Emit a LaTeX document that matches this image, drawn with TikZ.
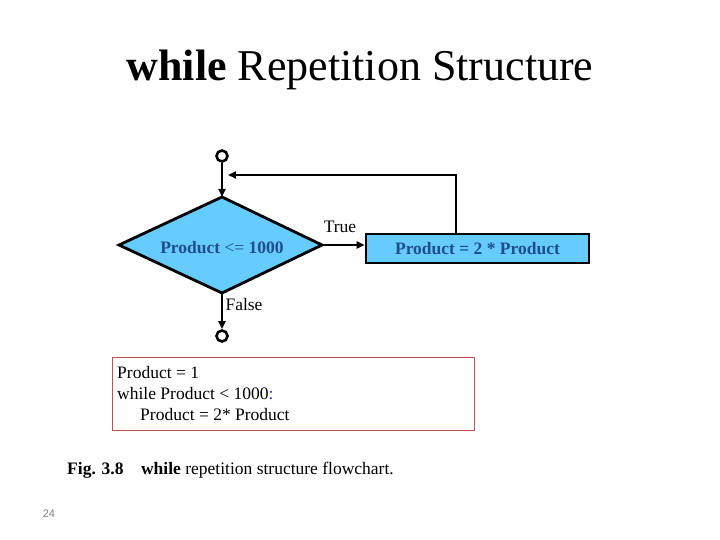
\documentclass[tikz,border=0pt]{standalone}
\usepackage{fontspec}
\setmainfont{Liberation Serif}
\setsansfont{Liberation Sans}
\usetikzlibrary{arrows.meta}
\definecolor{boxblue}{HTML}{66CCFF}
\definecolor{txtblue}{HTML}{1F4E8C}
\definecolor{codered}{HTML}{C0504D}
\definecolor{colonblue}{HTML}{3333AA}
\begin{document}
\begin{tikzpicture}[x=1pt,y=-1pt,
  flow/.style={line width=2.6pt,-{Triangle[length=8pt,width=7pt]}},
  plain/.style={line width=2.6pt},
  term/.style={circle,draw,line width=2.6pt,minimum size=11pt,inner sep=0pt,fill=white},
  lbl/.style={font=\fontsize{17.5}{20}\selectfont,inner sep=0pt},
  btxt/.style={font=\fontsize{17.5}{20}\selectfont\bfseries,text=txtblue}]
\useasboundingbox (0,0) rectangle (720,540);
\node[font=\fontsize{44}{48}\selectfont] (title) at (360,70) {\textbf{while} Repetition Structure};
\node[term] (top) at (222,156) {};
\coordinate (dt) at (222,197);
\coordinate (dl) at (119,245);
\coordinate (dr) at (322,245);
\coordinate (db) at (222,293);
\draw[fill=boxblue,line width=2.8pt,line join=miter] (dt) -- (dr) -- (db) -- (dl) -- cycle;
\node[btxt] (cond) at (222,248) {Product \textmd{<=} 1000};
\node[draw,line width=2.6pt,fill=boxblue,minimum width=223pt,minimum height=29pt,inner sep=0pt,btxt] (body) at (477.5,248.5) {Product = 2 * Product};
\node[term] (bot) at (222,336) {};
\draw[flow] (top) -- (dt);
\draw[flow] (dr) -- (dr -| body.west);
\draw[flow] (db) -- (bot);
\coordinate (c1) at (456,175);
\coordinate (c2) at (228,175);
\draw[plain] (456,234) -- (c1);
\draw[flow] ([xshift=1.3pt]c1) -- (c2);
\node[lbl] (true) at (340,227) {True};
\node[lbl] (false) at (244,305) {False};
\node[draw=codered,line width=0.8pt,minimum width=362pt,minimum height=73pt,inner sep=0pt] (code) at (293,393.5) {};
\node[lbl,anchor=west] (l1) at (117,373) {Product = 1};
\node[lbl,anchor=west] (l2) at (117,394) {while Product < 1000\textcolor{colonblue}{:}};
\node[lbl,anchor=west] (l3) at (140,415) {Product = 2* Product};
\node[lbl,anchor=west] (cap) at (67,470) {\textbf{Fig. 3.8}\quad\textbf{while} repetition structure flowchart.};
\node[font=\sffamily\fontsize{11}{12}\selectfont,text=gray] (pg) at (49,514) {24};
\end{tikzpicture}
\end{document}
